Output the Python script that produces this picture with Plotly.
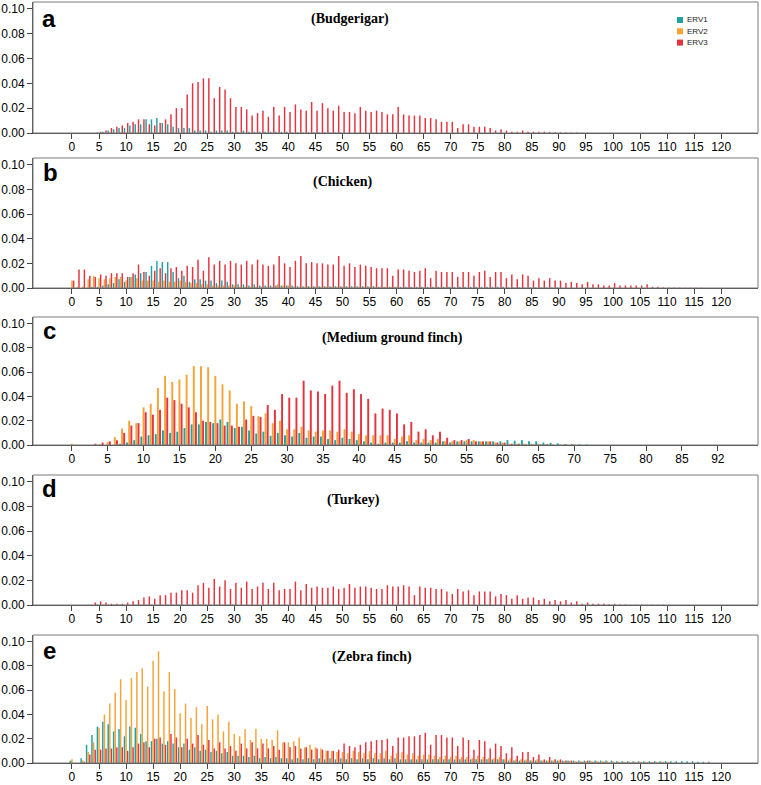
import plotly.graph_objects as go

# ---------------- data (relative frequency per bin) ----------------
# Panel a: Budgerigar (bins start at 0)
A_ERV1 = [0, 0, 0, 0, 0, 0.0005, 0.001, 0.002, 0.003, 0.004, 0.004, 0.006, 0.007, 0.007, 0.011, 0.011,
          0.012, 0.008, 0.007, 0.005, 0.004, 0.004, 0.004, 0.002, 0.002, 0.002, 0.001, 0.002, 0.002, 0.002,
          0.001, 0.001, 0.002, 0.001, 0.001, 0.001, 0.001, 0.001, 0.001, 0.001, 0.001, 0.0005, 0.0005, 0.0005,
          0.0005, 0.0005, 0.0005, 0.0005, 0.0005, 0.0005, 0.0005]
A_ERV2 = [0, 0, 0, 0, 0, 0.0003, 0.0003, 0.0005, 0.0005, 0.0005, 0.0005, 0.0005, 0.0003, 0.0003, 0.0003,
          0.0003, 0.0003, 0.0003, 0.0003, 0.0003, 0.0003]
A_ERV3 = [0, 0, 0, 0, 0, 0.001, 0.002, 0.004, 0.005, 0.006, 0.008, 0.009, 0.011, 0.011, 0.007, 0.006,
          0.008, 0.011, 0.015, 0.020, 0.020, 0.031, 0.040, 0.041, 0.044, 0.044, 0.028, 0.037, 0.035, 0.028,
          0.021, 0.021, 0.019, 0.014, 0.016, 0.018, 0.013, 0.021, 0.014, 0.021, 0.017, 0.023, 0.019, 0.018,
          0.025, 0.018, 0.024, 0.020, 0.018, 0.022, 0.017, 0.017, 0.016, 0.021, 0.018, 0.017, 0.018, 0.017,
          0.015, 0.015, 0.021, 0.015, 0.014, 0.014, 0.014, 0.012, 0.012, 0.011, 0.009, 0.009, 0.009, 0.004,
          0.007, 0.007, 0.005, 0.005, 0.005, 0.004, 0.002, 0.003, 0.002, 0.001, 0.001, 0.002, 0.001, 0.001,
          0.001, 0.001, 0.0008, 0.0006, 0.0005, 0.0004, 0.0004, 0.0004, 0.0003, 0.0003]

# Panel b: Chicken
B_ERV1 = [0, 0, 0, 0, 0.001, 0.001, 0.002, 0.003, 0.004, 0.007, 0.005, 0.009, 0.011, 0.012, 0.013, 0.018,
          0.022, 0.021, 0.021, 0.013, 0.008, 0.010, 0.005, 0.007, 0.007, 0.006, 0.006, 0.004, 0.006, 0.005,
          0.003, 0.003, 0.003, 0.002, 0.003, 0.002, 0.002, 0.002, 0.002, 0.002, 0.002, 0.002, 0.0015, 0.0015,
          0.0015, 0.0015, 0.0015, 0.0015, 0.0015, 0.0015, 0.0015, 0.0015, 0.0015, 0.0015, 0.0015, 0.0015,
          0.0015, 0.001, 0.001, 0.001, 0.001, 0.001, 0.001, 0.001, 0.001, 0.001, 0.001, 0.001, 0.001, 0.001,
          0.001, 0.001, 0.001, 0.001, 0.001, 0.001, 0.001, 0.001, 0.001, 0.001, 0.001, 0.0005, 0.0005, 0.0005,
          0.0005, 0.0005, 0.0005, 0.0005, 0.0005, 0.0005, 0.0005]
B_ERV2 = [0.006, 0.001, 0.001, 0.007, 0.010, 0.008, 0.007, 0.008, 0.009, 0.009, 0.006, 0.009, 0.008, 0.006,
          0.006, 0.006, 0.005, 0.006, 0.005, 0.005, 0.006, 0.005, 0.004, 0.004, 0.003, 0.003, 0.002, 0.002,
          0.002, 0.002, 0.002, 0.001, 0.001, 0.001, 0.001, 0.001, 0.001, 0.001, 0.003, 0.002, 0.002, 0.001,
          0.001, 0.001, 0.001, 0.001, 0.001, 0.001, 0.001, 0.001, 0.001, 0.001, 0.001, 0.001, 0.001, 0.001,
          0.001, 0.001, 0.001, 0.001, 0.001, 0.0005, 0.0005, 0.0005, 0.0005, 0.0005, 0.0005, 0.0005, 0.0005,
          0.0005, 0.0005]
B_ERV3 = [0.006, 0.015, 0.015, 0.010, 0.009, 0.011, 0.010, 0.012, 0.012, 0.012, 0.009, 0.012, 0.019, 0.013,
          0.010, 0.014, 0.016, 0.012, 0.016, 0.017, 0.014, 0.018, 0.017, 0.023, 0.014, 0.025, 0.019, 0.022,
          0.019, 0.022, 0.020, 0.019, 0.022, 0.019, 0.023, 0.019, 0.018, 0.019, 0.026, 0.020, 0.017, 0.022,
          0.026, 0.020, 0.021, 0.020, 0.020, 0.019, 0.019, 0.026, 0.018, 0.020, 0.017, 0.019, 0.018, 0.017,
          0.016, 0.016, 0.016, 0.010, 0.015, 0.015, 0.014, 0.013, 0.014, 0.016, 0.008, 0.014, 0.013, 0.013,
          0.013, 0.009, 0.013, 0.013, 0.010, 0.013, 0.014, 0.009, 0.013, 0.013, 0.008, 0.011, 0.007, 0.011,
          0.010, 0.006, 0.008, 0.006, 0.008, 0.006, 0.006, 0.004, 0.005, 0.004, 0.003, 0.005, 0.003, 0.003,
          0.002, 0.002, 0.004, 0.002, 0.002, 0.002, 0.002, 0.002, 0.003, 0.001, 0.001, 0.0005, 0.0005, 0.0005,
          0.0003, 0.0003, 0.0003, 0.0003, 0.0003]

# Panel c: Medium ground finch
C_ERV1 = [0, 0, 0, 0, 0, 0, 0, 0.001, 0.002, 0.004, 0.007, 0.008, 0.009, 0.012, 0.010, 0.011, 0.014, 0.017,
          0.017, 0.019, 0.018, 0.021, 0.019, 0.014, 0.015, 0.012, 0.0095, 0.011, 0.0076, 0.010, 0.008, 0.007,
          0.010, 0.006, 0.007, 0.007, 0.005, 0.004, 0.006, 0.005, 0.004, 0.003, 0.002, 0.001, 0.002, 0.002,
          0.002, 0.003, 0.002, 0.002, 0.002, 0.002, 0.003, 0.002, 0.003, 0.003, 0.003, 0.003, 0.003, 0.003,
          0.003, 0.004, 0.0035, 0.004, 0.003, 0.003, 0.002, 0.0017, 0.0014, 0.0008, 0.0008, 0.0005, 0.0004]
C_ERV2 = [0.001, 0, 0, 0, 0.0005, 0.0024, 0.0065, 0.0136, 0.020, 0.018, 0.031, 0.034, 0.047, 0.057, 0.052,
          0.054, 0.058, 0.065, 0.065, 0.064, 0.057, 0.050, 0.045, 0.034, 0.036, 0.032, 0.024, 0.026, 0.018,
          0.020, 0.013, 0.013, 0.015, 0.012, 0.011, 0.012, 0.012, 0.011, 0.013, 0.011, 0.009, 0.008, 0.008,
          0.008, 0.008, 0.005, 0.007, 0.008, 0.004, 0.005, 0.004, 0.005, 0.003, 0.003, 0.003, 0.004, 0.004,
          0.003, 0.003, 0.002, 0.002, 0.001, 0.001, 0.001, 0.001, 0.001, 0.0005, 0.0005, 0.0005, 0.0005, 0.0005]
C_ERV3 = [0, 0, 0, 0.001, 0.002, 0.003, 0.004, 0.010, 0.016, 0.018, 0.027, 0.025, 0.029, 0.039, 0.037, 0.034,
          0.031, 0.027, 0.020, 0.019, 0.018, 0.016, 0.016, 0.015, 0.021, 0.024, 0.023, 0.033, 0.029, 0.042,
          0.039, 0.039, 0.053, 0.045, 0.044, 0.042, 0.049, 0.053, 0.043, 0.046, 0.042, 0.038, 0.026, 0.030,
          0.029, 0.026, 0.017, 0.019, 0.011, 0.013, 0.008, 0.011, 0.006, 0.004, 0.004, 0.005, 0.003, 0.003,
          0.003, 0.002, 0.002, 0.001, 0.001, 0.0005, 0.0005, 0.0005, 0.0005]

# Panel d: Turkey
D_ERV1 = [0, 0, 0, 0, 0, 0.0003, 0.0003, 0.0003, 0.0003, 0.0003, 0.0003, 0.0003, 0.0003, 0.0003, 0.0003,
          0.0003, 0.0003, 0.0003, 0.0003, 0.0003, 0.0005, 0.0003, 0.0003, 0.0003, 0.0005, 0.0003, 0.0003,
          0.0003, 0.0003, 0.0003, 0.0005]
D_ERV2 = [0, 0, 0, 0, 0, 0.0003, 0.0003, 0.0003, 0.0003, 0.0003, 0.0003, 0.0003, 0.0003, 0.0003, 0.0003]
D_ERV3 = [0, 0, 0, 0, 0.002, 0.003, 0.002, 0.001, 0.001, 0.001, 0.002, 0.003, 0.004, 0.006, 0.007, 0.005,
          0.008, 0.008, 0.010, 0.010, 0.012, 0.012, 0.010, 0.016, 0.018, 0.014, 0.021, 0.015, 0.020, 0.013,
          0.018, 0.014, 0.019, 0.013, 0.015, 0.018, 0.013, 0.018, 0.012, 0.013, 0.013, 0.019, 0.012, 0.017,
          0.014, 0.015, 0.014, 0.014, 0.015, 0.013, 0.014, 0.017, 0.014, 0.015, 0.015, 0.014, 0.013, 0.013,
          0.016, 0.015, 0.015, 0.016, 0.015, 0.008, 0.015, 0.014, 0.014, 0.013, 0.013, 0.011, 0.009, 0.013,
          0.011, 0.012, 0.008, 0.011, 0.011, 0.011, 0.007, 0.009, 0.008, 0.005, 0.008, 0.005, 0.006, 0.006,
          0.004, 0.005, 0.003, 0.004, 0.003, 0.004, 0.002, 0.003, 0.001, 0.002, 0.001, 0.001, 0.001, 0.0007,
          0.001, 0.0005, 0.0005, 0.0003, 0.0003, 0.0003, 0.0003, 0.0003, 0.0003, 0.0003, 0.0003]

# Panel e: Zebra finch
E_ERV1 = [0.002, 0, 0.004, 0.015, 0.023, 0.030, 0.034, 0.032, 0.026, 0.028, 0.022, 0.030, 0.029, 0.024,
          0.018, 0.018, 0.020, 0.016, 0.018, 0.016, 0.013, 0.016, 0.011, 0.013, 0.010, 0.011, 0.009, 0.010,
          0.008, 0.009, 0.006, 0.006, 0.006, 0.005, 0.006, 0.004, 0.005, 0.004, 0.005, 0.004, 0.004, 0.003,
          0.004, 0.003, 0.004, 0.003, 0.004, 0.003, 0.004, 0.003, 0.004, 0.003, 0.004, 0.003, 0.004, 0.003,
          0.004, 0.003, 0.004, 0.003, 0.004, 0.003, 0.003, 0.003, 0.003, 0.003, 0.003, 0.003, 0.003, 0.003,
          0.003, 0.003, 0.003, 0.003, 0.003, 0.003, 0.003, 0.003, 0.003, 0.003, 0.003, 0.002, 0.002, 0.002,
          0.002, 0.002, 0.002, 0.002, 0.002, 0.002, 0.002, 0.002, 0.002, 0.002, 0.002, 0.002, 0.002, 0.002,
          0.002, 0.002, 0.002, 0.0015, 0.0015, 0.0015, 0.0015, 0.0015, 0.0015, 0.0015, 0.0015, 0.0015, 0.0015,
          0.0015, 0.0015, 0.0015, 0.0015, 0.0015, 0.001, 0.001, 0.001]
E_ERV2 = [0.003, 0, 0.002, 0.009, 0.017, 0.029, 0.040, 0.049, 0.058, 0.069, 0.052, 0.070, 0.075, 0.078,
          0.063, 0.084, 0.092, 0.059, 0.075, 0.061, 0.041, 0.049, 0.037, 0.046, 0.032, 0.047, 0.036, 0.040,
          0.026, 0.034, 0.024, 0.022, 0.028, 0.019, 0.028, 0.020, 0.020, 0.019, 0.027, 0.017, 0.017, 0.018,
          0.021, 0.013, 0.015, 0.013, 0.012, 0.010, 0.010, 0.009, 0.009, 0.008, 0.010, 0.009, 0.008, 0.010,
          0.008, 0.008, 0.010, 0.006, 0.008, 0.009, 0.007, 0.008, 0.006, 0.007, 0.007, 0.006, 0.005, 0.006,
          0.005, 0.006, 0.005, 0.005, 0.004, 0.006, 0.005, 0.004, 0.004, 0.005, 0.003, 0.004, 0.003, 0.003,
          0.003, 0.002, 0.003, 0.002, 0.002, 0.002, 0.002, 0.0015, 0.0015, 0.0015, 0.0015, 0.0015, 0.0015,
          0.0015, 0.0015, 0.0015, 0.0015, 0.001, 0.001, 0.001, 0.001, 0.001, 0.001, 0.001, 0.001, 0.001, 0.001]
E_ERV3 = [0, 0, 0.001, 0.007, 0.011, 0.011, 0.012, 0.012, 0.013, 0.013, 0.010, 0.013, 0.016, 0.017, 0.013,
          0.020, 0.021, 0.015, 0.024, 0.021, 0.013, 0.020, 0.016, 0.023, 0.015, 0.019, 0.012, 0.017, 0.012,
          0.014, 0.010, 0.016, 0.012, 0.017, 0.012, 0.016, 0.012, 0.014, 0.011, 0.017, 0.013, 0.014, 0.012,
          0.013, 0.011, 0.012, 0.011, 0.010, 0.010, 0.011, 0.016, 0.014, 0.013, 0.015, 0.017, 0.018, 0.019,
          0.019, 0.020, 0.014, 0.021, 0.021, 0.022, 0.022, 0.023, 0.025, 0.015, 0.023, 0.023, 0.021, 0.021,
          0.014, 0.021, 0.019, 0.011, 0.019, 0.018, 0.012, 0.016, 0.014, 0.008, 0.013, 0.006, 0.009, 0.009,
          0.005, 0.007, 0.003, 0.005, 0.003, 0.003, 0.002, 0.002, 0.001, 0.001, 0.002, 0.001, 0.001, 0.001,
          0.0005, 0.0005, 0.0005, 0.0005, 0.0005, 0.0005, 0.0005, 0.0005, 0.0005, 0.0005, 0.0005, 0.0005,
          0.0005]

PANELS = [
    ("a", "(Budgerigar)", A_ERV1, A_ERV2, A_ERV3),
    ("b", "(Chicken)", B_ERV1, B_ERV2, B_ERV3),
    ("c", "(Medium ground finch)", C_ERV1, C_ERV2, C_ERV3),
    ("d", "(Turkey)", D_ERV1, D_ERV2, D_ERV3),
    ("e", "(Zebra finch)", E_ERV1, E_ERV2, E_ERV3),
]
SERIES = ["ERV1", "ERV2", "ERV3"]
COLORS = ["#1ea3a0", "#f4a337", "#e5333f"]

X_TICKS = list(range(0, 121, 5))
X_TICKTEXT = [str(v) for v in X_TICKS]
C_TICKS = list(range(0, 86, 5)) + [90]
C_TICKTEXT = [str(v) for v in range(0, 86, 5)] + ["92"]
Y_TICKS = [0, 0.02, 0.04, 0.06, 0.08, 0.10]
Y_TICKTEXT = ["0.00", "0.02", "0.04", "0.06", "0.08", "0.10"]

# ---------------- layout geometry (pixels) ----------------
W, H = 761, 785
PLOT_L, PLOT_R = 33, 758
# (box top, axis bottom) for each panel
PANEL_PX = [(2, 133), (158, 288), (317, 445), (475, 605), (635, 763)]
TITLE_POS = [(350, 19), (342, 182), (392, 338), (353, 500), (372, 657)]
LETTER_POS = [(49, 19), (50, 173), (49, 330), (49, 488), (49, 650)]


def px(x):
    return x / W


def py(y):
    return 1 - y / H


fig = go.Figure()
layout = dict(
    template="none",
    width=W, height=H,
    margin=dict(l=0, r=0, t=0, b=0, pad=0),
    paper_bgcolor="white", plot_bgcolor="white",
    barmode="group", bargap=0.1, bargroupgap=0.1,
    showlegend=False,
    font=dict(family="Liberation Sans, Arial, sans-serif", size=12, color="black"),
)
shapes = []
annotations = []

for i, (letter, title, s1, s2, s3) in enumerate(PANELS):
    n = "" if i == 0 else str(i + 1)
    xa, ya = "x" + n, "y" + n
    for name, vals, col in zip(SERIES, (s1, s2, s3), COLORS):
        fig.add_trace(go.Bar(
            x=list(range(len(vals))), y=vals, name=name,
            marker=dict(color=col, line=dict(width=0)),
            xaxis=xa, yaxis=ya, offsetgroup=name,
        ))
    top, bot = PANEL_PX[i]
    is_c = (letter == "c")
    layout["xaxis" + n] = dict(
        domain=[px(PLOT_L), px(PLOT_R)],
        anchor=ya, automargin=False,
        range=[-5.4, 95.6] if is_c else [-7.2, 126.8],
        tickmode="array",
        tickvals=C_TICKS if is_c else X_TICKS,
        ticktext=C_TICKTEXT if is_c else X_TICKTEXT,
        ticks="outside", ticklen=5, tickwidth=1, tickcolor="#444",
        ticklabelstandoff=-2,
        showline=True, linecolor="#444", linewidth=1,
        showgrid=False, zeroline=False,
        tickfont=dict(size=12, color="black"),
        fixedrange=True,
    )
    layout["yaxis" + n] = dict(
        domain=[py(bot), py(top)],
        anchor=xa, automargin=False,
        range=[0, 0.1055],
        tickmode="array", tickvals=Y_TICKS, ticktext=Y_TICKTEXT,
        ticks="outside", ticklen=5, tickwidth=1, tickcolor="#444",
        showline=True, linecolor="#444", linewidth=1,
        showgrid=False, zeroline=False,
        tickfont=dict(size=12, color="black"),
        fixedrange=True,
    )
    # frame top/right
    shapes.append(dict(type="rect", xref="paper", yref="paper",
                       x0=px(PLOT_L), x1=px(PLOT_R), y0=py(bot), y1=py(top),
                       line=dict(color="#7a7a7a", width=1), fillcolor="rgba(0,0,0,0)",
                       layer="above"))
    tx, ty = TITLE_POS[i]
    annotations.append(dict(text="<b>" + title + "</b>", x=px(tx), y=py(ty), xref="paper", yref="paper",
                            showarrow=False, xanchor="center", yanchor="middle",
                            font=dict(family="Liberation Serif, Times New Roman, serif", size=14,
                                      color="black")))
    lx, ly = LETTER_POS[i]
    annotations.append(dict(text="<b>" + letter + "</b>", x=px(lx), y=py(ly), xref="paper", yref="paper",
                            showarrow=False, xanchor="center", yanchor="middle",
                            font=dict(family="Liberation Sans, Arial, sans-serif", size=24, color="black")))

# legend (panel a, top right)
LEG_X, LEG_Y0, LEG_DY = 677, 20, 11.3
for k, (name, col) in enumerate(zip(SERIES, COLORS)):
    yc = LEG_Y0 + k * LEG_DY
    shapes.append(dict(type="rect", xref="paper", yref="paper",
                       x0=px(LEG_X), x1=px(LEG_X + 6), y0=py(yc + 3), y1=py(yc - 3),
                       line=dict(width=0), fillcolor=col))
    annotations.append(dict(text=name, x=px(LEG_X + 7.5), y=py(yc), xref="paper", yref="paper",
                            showarrow=False, xanchor="left", yanchor="middle",
                            font=dict(family="Liberation Sans, Arial, sans-serif", size=8, color="#222")))

layout["shapes"] = shapes
layout["annotations"] = annotations
fig.update_layout(**layout)
fig.write_html("out.html",
               config={"displayModeBar": False, "staticPlot": True},
               post_script="document.body.style.margin='0';document.body.style.padding='0';")
